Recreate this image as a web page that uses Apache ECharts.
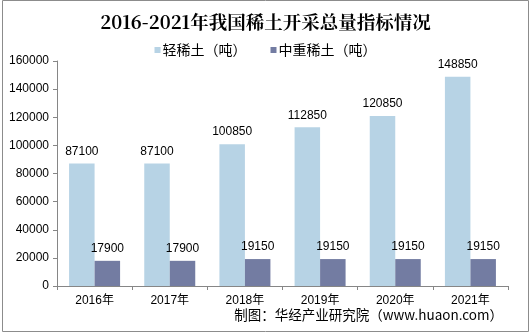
<!DOCTYPE html>
<html><head><meta charset="utf-8">
<script src="https://cdn.jsdelivr.net/npm/echarts@6/dist/echarts.min.js"></script>
<style>html,body{margin:0;padding:0;background:#fff}#c{width:531px;height:335px}</style>
</head><body><div id="c"></div>
<script>
const categories = ['2016年','2017年','2018年','2019年','2020年','2021年'];
const lightRE = [87100, 87100, 100850, 112850, 120850, 148850];
const heavyRE = [17900, 17900, 19150, 19150, 19150, 19150];
const seriesNames = ['轻稀土（吨）','中重稀土（吨）'];

const chart = echarts.init(document.getElementById('c'));
const lblStyle = {show:true, position:'top', color:'#000', fontSize:12, fontFamily:'Liberation Sans, Arial, sans-serif', distance:6};
chart.setOption({
  animation:false,
  title:{text:'2016-2021年我国稀土开采总量指标情况', left:'center', top:8,
    textStyle:{fontSize:18.5, fontWeight:'bold', color:'#000', fontFamily:'Noto Serif CJK SC, Noto Sans CJK SC, serif'}},
  legend:{top:38, left:'center', itemWidth:6, itemHeight:6, itemGap:24, icon:'rect',
    textStyle:{fontSize:14, color:'#000', padding:[0,0,0,-3], fontFamily:'Noto Sans CJK SC, sans-serif'}, data:seriesNames},
  grid:{left:57, right:23, top:61, bottom:49},
  xAxis:{type:'category', data:categories,
    axisLine:{lineStyle:{color:'#868686'}}, axisTick:{show:true, length:4, lineStyle:{color:'#868686'}},
    axisLabel:{color:'#000', fontSize:12, margin:9, fontFamily:'Liberation Sans, Noto Sans CJK SC, sans-serif'}},
  yAxis:{type:'value', min:0, max:160000, interval:20000,
    axisLine:{show:true, lineStyle:{color:'#868686'}}, axisTick:{show:true, length:4, lineStyle:{color:'#868686'}},
    splitLine:{show:false},
    axisLabel:{color:'#000', fontSize:12, margin:8, formatter:v=>String(v), fontFamily:'Liberation Sans, Arial, sans-serif'}},
  series:[
    {name:seriesNames[0], type:'bar', data:lightRE, barWidth:25.5, barGap:'0%', itemStyle:{color:'#B7D3E5'}, label:lblStyle},
    {name:seriesNames[1], type:'bar', data:heavyRE, barWidth:25.5, itemStyle:{color:'#737CA2'}, label:lblStyle}
  ],
  graphic:[
    {type:'rect', shape:{x:2.5, y:0.5, width:526, height:331}, style:{fill:'none', stroke:'#8c8c8c', lineWidth:1}, silent:true},
    {type:'text', right:28, top:308, style:{text:'制图：华经产业研究院（www.huaon.com）', fill:'#000', fontSize:13.5, fontFamily:'Noto Sans CJK SC, sans-serif'}}
  ]
});
</script></body></html>
